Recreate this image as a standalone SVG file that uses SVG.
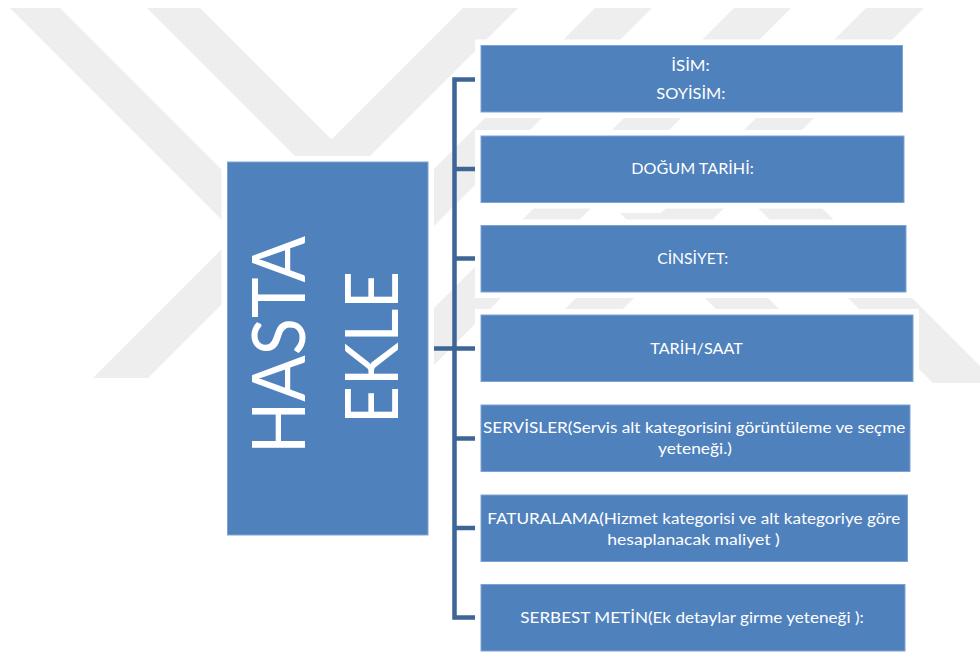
<svg xmlns="http://www.w3.org/2000/svg" width="980" height="652" viewBox="0 0 980 652">
  <style>
    .mark { fill: #eeeeee; }
    .halo { fill: #ffffff; }
    .box { fill: #4f81bd; stroke: #7fa3d1; stroke-width: 1; }
    .lbl { fill: #ffffff; font-family: Lato, "Liberation Sans", "Noto Sans", sans-serif; font-size: 16px; text-anchor: middle; }
    .big { fill: #ffffff; font-family: Lato, "Liberation Sans", "Noto Sans", sans-serif; font-size: 74px; text-anchor: middle; }
    .wire { fill: none; stroke: #3d6696; stroke-width: 4.5; stroke-linejoin: miter; }
  </style>

  <rect width="980" height="652" fill="#ffffff"/>

  <!-- background emblem: diagonal bands -->
  <g id="emblem">
    <polygon class="mark" points="10,8 60,8 430,378 380,378"/>
    <polygon class="mark" points="147,8 200,8 333,141 332,193"/>
    <polygon class="mark" points="463,8 518,8 148,378 93,378"/>
    <polygon class="mark" points="595,8 652,8 282,378 225,378"/>
    <polygon class="mark" points="734,8 791,8 421,378 364,378"/>
    <polygon class="mark" points="866,8 924,8 554,378 496,378"/>
    <polygon class="mark" points="700,150 764,150 997,383 933,383"/>
    <polygon class="mark" points="620,213 683,213 853,383 790,383"/>
  </g>

  <!-- connectors -->
  <g id="connectors">
    <path class="wire" d="M476,79.5 H454.5 V617.5 H476"/>
    <path class="wire" d="M454.5,169 H476"/>
    <path class="wire" d="M454.5,258.5 H476"/>
    <path class="wire" d="M433,348.5 H476"/>
    <path class="wire" d="M454.5,438.5 H476"/>
    <path class="wire" d="M454.5,528 H476"/>
  </g>

  <!-- root node -->
  <g id="hasta-ekle">
    <rect class="halo" x="221.5" y="156" width="212.5" height="385"/>
    <rect class="box" x="227.5" y="162" width="200.5" height="373"/>
    <text class="big" transform="translate(305,345) rotate(-90)" textLength="218" lengthAdjust="spacingAndGlyphs">HASTA</text>
    <text class="big" transform="translate(398,347.5) rotate(-90)" textLength="153" lengthAdjust="spacingAndGlyphs">EKLE</text>
  </g>

  <!-- child nodes -->
  <g id="isim">
    <rect class="halo" x="475" y="39.5" width="433.5" height="78.5"/>
    <rect class="box" x="481" y="45.5" width="421.5" height="66.5"/>
    <text class="lbl" x="690.5" y="70.5" textLength="38.5" lengthAdjust="spacingAndGlyphs">İSİM:</text>
    <text class="lbl" x="690.8" y="99" textLength="69" lengthAdjust="spacingAndGlyphs">SOYİSİM:</text>
  </g>

  <g id="dogum-tarihi">
    <rect class="halo" x="475" y="130" width="435" height="78.5"/>
    <rect class="box" x="481" y="136" width="423" height="66.5"/>
    <text class="lbl" x="692.5" y="174" textLength="122.5" lengthAdjust="spacingAndGlyphs">DOĞUM TARİHİ:</text>
  </g>

  <g id="cinsiyet">
    <rect class="halo" x="475" y="219.5" width="437" height="78.5"/>
    <rect class="box" x="481" y="225.5" width="425" height="66.5"/>
    <text class="lbl" x="692.7" y="264" textLength="71" lengthAdjust="spacingAndGlyphs">CİNSİYET:</text>
  </g>

  <g id="tarih-saat">
    <rect class="halo" x="475" y="309" width="444" height="78.5"/>
    <rect class="box" x="481" y="315" width="432" height="66.5"/>
    <text class="lbl" x="696.5" y="354" textLength="92.5" lengthAdjust="spacingAndGlyphs">TARİH/SAAT</text>
  </g>

  <g id="servisler">
    <rect class="halo" x="475" y="399" width="441" height="78.5"/>
    <rect class="box" x="481" y="405" width="429" height="66.5"/>
    <text class="lbl" x="694.2" y="433" textLength="422.5" lengthAdjust="spacingAndGlyphs">SERVİSLER(Servis alt kategorisini görüntüleme ve seçme</text>
    <text class="lbl" x="695" y="454" textLength="74" lengthAdjust="spacingAndGlyphs">yeteneği.)</text>
  </g>

  <g id="faturalama">
    <rect class="halo" x="475" y="489" width="438.5" height="78.5"/>
    <rect class="box" x="481" y="495" width="426.5" height="66.5"/>
    <text class="lbl" x="693.8" y="524" textLength="413" lengthAdjust="spacingAndGlyphs">FATURALAMA(Hizmet kategorisi ve alt kategoriye göre</text>
    <text class="lbl" x="693.5" y="545" textLength="172.5" lengthAdjust="spacingAndGlyphs">hesaplanacak maliyet )</text>
  </g>

  <g id="serbest-metin">
    <rect class="halo" x="475" y="578.5" width="436" height="78.5"/>
    <rect class="box" x="481" y="584.5" width="424" height="66.5"/>
    <text class="lbl" x="692" y="623" textLength="343.5" lengthAdjust="spacingAndGlyphs">SERBEST METİN(Ek detaylar girme yeteneği ):</text>
  </g>
</svg>
